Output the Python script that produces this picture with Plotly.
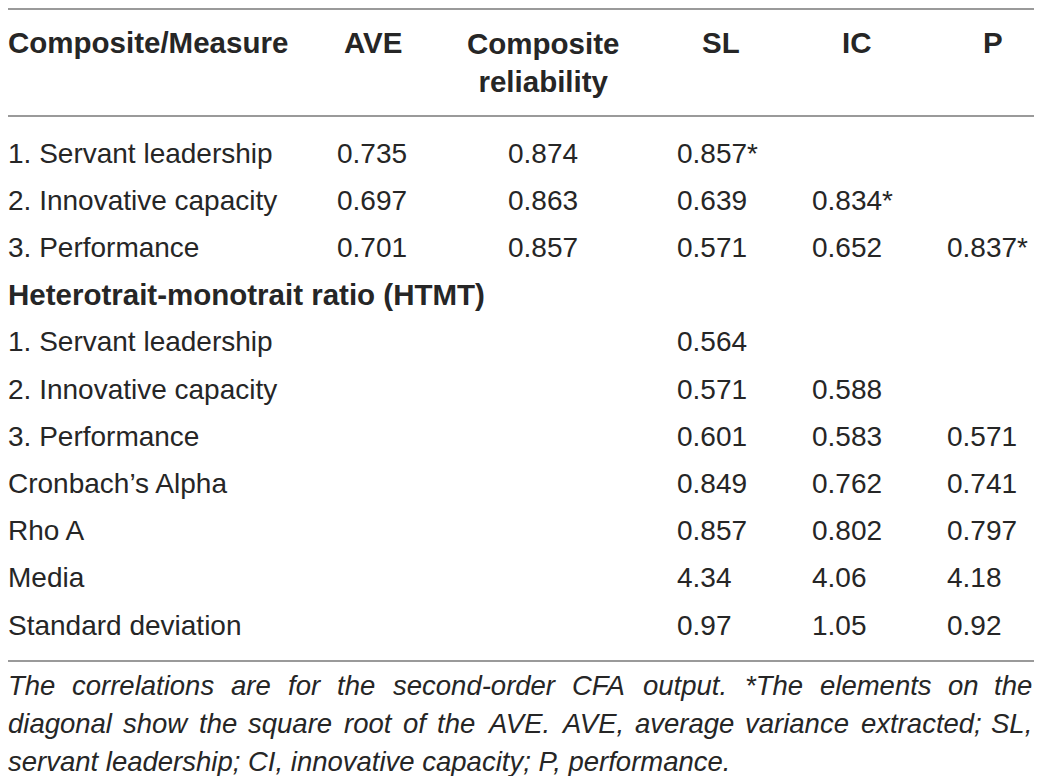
"""
Tabelle: Konvergente und diskriminante Validitaet (AVE, CR, HTMT)
als Plotly-Figur nachgebaut, Text ueber Annotationen auf festen Achsen.
"""

import plotly.graph_objects as go

# --- Daten ---------------------------------------------------------------
header_cols = ["AVE", "Composite<br>reliability", "SL", "IC", "P"]
row_labels = [
    "1. Servant leadership",
    "2. Innovative capacity",
    "3. Performance",
    "Heterotrait-monotrait ratio (HTMT)",
    "1. Servant leadership",
    "2. Innovative capacity",
    "3. Performance",
    "Cronbach’s Alpha",
    "Rho A",
    "Media",
    "Standard deviation",
]
bold_rows = [3]

ave = ["0.735", "0.697", "0.701", "", "", "", "", "", "", "", ""]
comp_rel = ["0.874", "0.863", "0.857", "", "", "", "", "", "", "", ""]
sl = ["0.857*", "0.639", "0.571", "", "0.564", "0.571", "0.601", "0.849", "0.857", "4.34", "0.97"]
ic = ["", "0.834*", "0.652", "", "", "0.588", "0.583", "0.762", "0.802", "4.06", "1.05"]
perf = ["", "", "0.837*", "", "", "", "0.571", "0.741", "0.797", "4.18", "0.92"]

footnote = [
    "The correlations are for the second-order CFA output. *The elements on the",
    "diagonal show the square root of the AVE. AVE, average variance extracted; SL,",
    "servant leadership; CI, innovative capacity; P, performance.",
]

# --- Layout-Konstanten ---------------------------------------------------
# Seite hat 8px Body-Rand -> Figur kleiner, Achsen so, dass Koordinaten = Bildpixel
W, H, PAD = 1042, 784, 8
FONT = "Liberation Sans, Arial, sans-serif"
TXT = "#262626"
RULE = "#9a9a9a"

left_x = PAD
right_x = W - PAD
value_x = [335, 506, 675, 810, 945]
header_x = [373, 543, 721, 857, 993]
row_y0, row_dy = 153, 47.2
foot_y0, foot_dy = 685, 38
foot_size = 27.5

# Arial/Liberation-Sans Laufweiten (1/1000 em) fuer den Blocksatz
_W = {" ": 278, "*": 389, ",": 278, "-": 333, ".": 278, ";": 278, "'": 191}
_W.update({c: w for c, w in zip(
    "ABCDEFGHIJKLMNOPQRSTUVWXYZ",
    [667, 667, 722, 722, 667, 611, 778, 722, 278, 500, 667, 556, 833,
     722, 778, 667, 778, 722, 667, 611, 722, 667, 944, 667, 667, 611])})
_W.update({c: w for c, w in zip(
    "abcdefghijklmnopqrstuvwxyz",
    [556, 556, 500, 556, 556, 278, 556, 556, 222, 222, 500, 222, 833,
     556, 556, 556, 556, 333, 500, 278, 556, 500, 722, 500, 500, 500])})


def text_width(s, size):
    return sum(_W.get(c, 556) for c in s) * size / 1000.0


annotations = []

# Kopfzeile
annotations.append(dict(x=left_x, xshift=-2, y=42, text="<b>Composite/Measure</b>",
                        xanchor="left", font=dict(size=29.5)))
for hx, h in zip(header_x, header_cols):
    annotations.append(dict(x=hx, y=62 if "<br>" in h else 42, text=f"<b>{h}</b>",
                            xanchor="center", font=dict(size=29.5)))

# Zeilen
columns = [ave, comp_rel, sl, ic, perf]
for i, lab in enumerate(row_labels):
    y = row_y0 + i * row_dy
    if i in bold_rows:
        annotations.append(dict(x=left_x, xshift=-2, y=y, text=f"<b>{lab}</b>",
                                xanchor="left", font=dict(size=29.5)))
    else:
        annotations.append(dict(x=left_x, xshift=-2, y=y, text=lab,
                                xanchor="left", font=dict(size=28)))
    for vx, col in zip(value_x, columns):
        if col[i]:
            annotations.append(dict(x=vx, y=y, text=col[i], xanchor="left",
                                    font=dict(size=28)))

# Fussnote im Blocksatz (letzte Zeile linksbuendig)
for j, line in enumerate(footnote):
    y = foot_y0 + j * foot_dy
    if j == len(footnote) - 1:
        annotations.append(dict(x=left_x, xshift=-2, y=y, text=f"<i>{line}</i>",
                                xanchor="left", font=dict(size=foot_size)))
        continue
    words = line.split(" ")
    widths = [text_width(wd, foot_size) for wd in words]
    span = (right_x - 2) - (left_x - 2)
    gap = (span - sum(widths)) / (len(words) - 1)
    pos = left_x
    for k, (wd, ww) in enumerate(zip(words, widths)):
        if k == len(words) - 1:
            annotations.append(dict(x=right_x, y=y, text=f"<i>{wd}</i>",
                                    xanchor="right", font=dict(size=foot_size)))
        else:
            annotations.append(dict(x=pos, xshift=-2, y=y, text=f"<i>{wd}</i>",
                                    xanchor="left", font=dict(size=foot_size)))
        pos += ww + gap

for a in annotations:
    a.update(xref="x", yref="y", yanchor="middle", showarrow=False)
    a["font"].update(family=FONT, color=TXT)

shapes = [
    dict(type="line", xref="x", yref="y", x0=PAD, x1=W - PAD, y0=y, y1=y,
         line=dict(color=RULE, width=2))
    for y in (PAD + 1, 116, 661)
]

fig = go.Figure()
fig.update_layout(
    width=W - 2 * PAD, height=H - 2 * PAD,
    margin=dict(l=0, r=0, t=0, b=0),
    paper_bgcolor="white", plot_bgcolor="white",
    xaxis=dict(range=[PAD, W - PAD], visible=False, fixedrange=True),
    yaxis=dict(range=[H - PAD, PAD], visible=False, fixedrange=True),
    annotations=annotations,
    shapes=shapes,
    showlegend=False,
)

fig.write_html("out.html")
